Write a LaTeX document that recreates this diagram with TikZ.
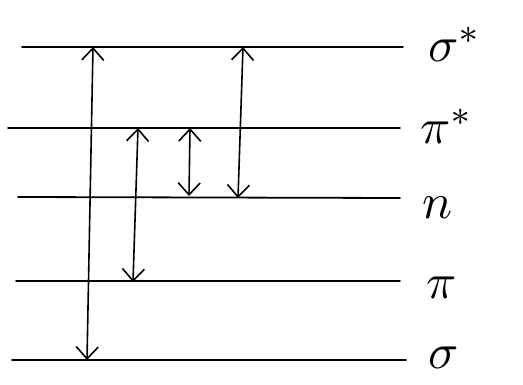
\documentclass[tikz,border=0pt]{standalone}
\usepackage{amsmath,amssymb}
\usepackage{graphicx}
\usepackage{tikz}
\usetikzlibrary{arrows.meta,positioning,calc}

\newcommand{\biglab}[1]{\scalebox{5}{$#1$}}

\begin{document}
\begin{tikzpicture}[
  x=1pt, y=-1pt,
  level/.style={line width=1.8pt, line cap=round},
  trans/.style={line width=1.6pt, {Straight Barb[length=12pt,width=22pt]}-{Straight Barb[length=12pt,width=22pt]}},
  lab/.style={anchor=west, inner sep=0pt}]
\useasboundingbox (0,0) rectangle (523,385);
% energy levels
\coordinate (ss-l) at (22,47);  \coordinate (ss-r) at (403,47);
\coordinate (ps-l) at (8,128);  \coordinate (ps-r) at (400,128);
\coordinate (n-l) at (18,197);  \coordinate (n-r) at (400,198);
\coordinate (p-l) at (16,281);  \coordinate (p-r) at (400,281);
\coordinate (s-l) at (12,360);  \coordinate (s-r) at (406,360);
\draw[level] (ss-l) -- (ss-r);
\draw[level] (ps-l) -- (ps-r);
\draw[level] (n-l) -- (n-r);
\draw[level] (p-l) -- (p-r);
\draw[level] (s-l) -- (s-r);
\node[lab] (ss) at (428,44) {\biglab{\sigma^{*}}};
\node[lab] (ps) at (420,126) {\biglab{\pi^{*}}};
\node[lab] (n) at (422,208) {\biglab{n}};
\node[lab] (p) at (426,288) {\biglab{\pi}};
\node[lab] (s) at (428,358) {\biglab{\sigma}};
% transitions
\coordinate (a1t) at (93,47);  \coordinate (a1b) at (87,360);
\coordinate (a2t) at (138,128); \coordinate (a2b) at (133,282);
\coordinate (a3t) at (190,128); \coordinate (a3b) at (189,196);
\coordinate (a4t) at (243,47);  \coordinate (a4b) at (238,198);
\draw[trans] (a1b) -- (a1t);
\draw[trans] (a2b) -- (a2t);
\draw[trans] (a3b) -- (a3t);
\draw[trans] (a4b) -- (a4t);
\end{tikzpicture}
\end{document}
